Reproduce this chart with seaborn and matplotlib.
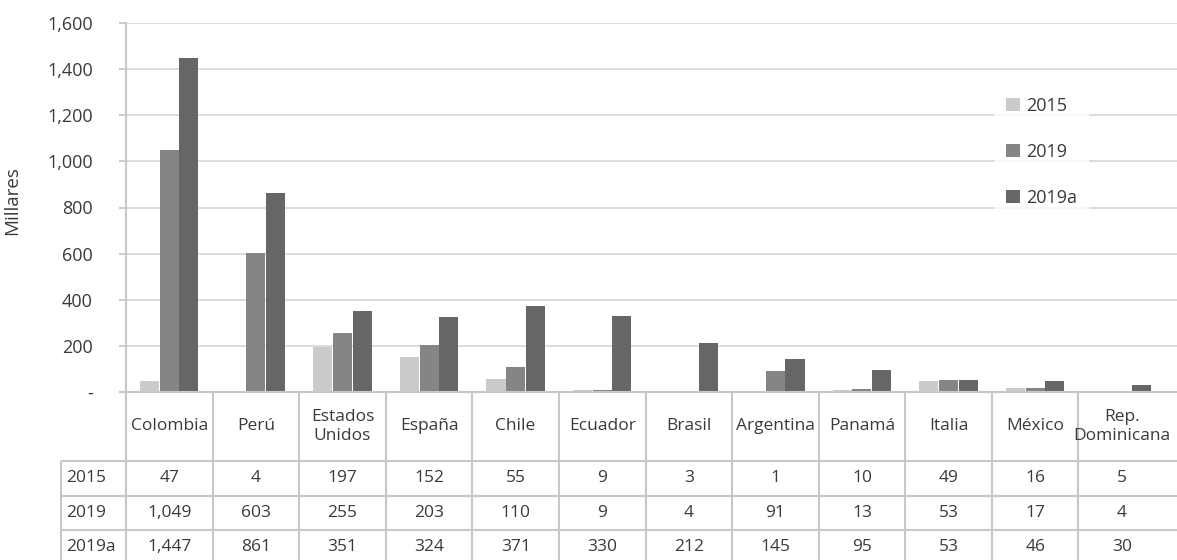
import matplotlib
matplotlib.use("Agg")
import matplotlib.pyplot as plt
import numpy as np
import pandas as pd
import seaborn as sns
from matplotlib.ticker import FuncFormatter

# datos (miles de personas)
paises = ["Colombia", "Perú", "Estados\nUnidos", "España", "Chile", "Ecuador",
          "Brasil", "Argentina", "Panamá", "Italia", "México", "Rep.\nDominicana"]
series = ["2015", "2019", "2019a"]
v2015 = [47, 4, 197, 152, 55, 9, 3, 1, 10, 49, 16, 5]
v2019 = [1049, 603, 255, 203, 110, 9, 4, 91, 13, 53, 17, 4]
v2019a = [1447, 861, 351, 324, 371, 330, 212, 145, 95, 53, 46, 30]
colores = ["#cbcbcb", "#858585", "#666666"]

sns.set_theme(style="white")
plt.rcParams["font.family"] = ["Open Sans", "DejaVu Sans"]
texto = "#3a3a3a"
linea = "#c8c8c8"

df = pd.DataFrame({
    "pais": paises * 3,
    "serie": np.repeat(series, len(paises)),
    "valor": v2015 + v2019 + v2019a,
})

W, H = 1177, 560
fig = plt.figure(figsize=(W / 100, H / 100), dpi=100)

# pixel layout
x0, x1 = 126, 1177
y_top, y_base = 23, 392
col_w = (1165 - 126) / 12
xmax = -0.5 + (x1 - x0) / col_w

ax = fig.add_axes([x0 / W, 1 - y_base / H, (x1 - x0) / W, (y_base - y_top) / H])
sns.barplot(data=df, x="pais", y="valor", hue="serie", palette=colores,
            width=0.68, gap=0.03, saturation=1, edgecolor="none", ax=ax)
ax.set_xlim(-0.5, xmax)
ax.set_ylim(0, 1600)
ax.set_yticks(np.arange(0, 1601, 200))
ax.yaxis.set_major_formatter(FuncFormatter(lambda v, p: "-" if v == 0 else f"{v:,.0f}"))
ax.set_xticks([])
ax.set_xlabel("")
ax.set_ylabel("Millares", fontsize=13.5, color=texto)
ax.yaxis.set_label_coords((21 - x0) / (x1 - x0), 0.52)
ax.yaxis.grid(True, color="#d9d9d9", linewidth=1.3)
ax.set_axisbelow(True)
for s in ["top", "right", "bottom"]:
    ax.spines[s].set_visible(False)
ax.spines["left"].set_color(linea)
ax.spines["left"].set_linewidth(1.5)
ax.tick_params(axis="y", left=True, length=5, width=1.3, color=linea,
               pad=19, labelsize=13, labelcolor=texto)

leg = ax.legend(loc="upper left", bbox_to_anchor=((995 - x0) / (x1 - x0), (y_base - 86) / (y_base - y_top)),
                frameon=True, fancybox=False, fontsize=13, labelcolor=texto,
                handlelength=0.8, handleheight=0.8, handletextpad=0.35,
                labelspacing=1.55, borderpad=0.6, borderaxespad=0)
leg.get_frame().set_facecolor("white")
leg.get_frame().set_edgecolor("white")

# tabla de datos bajo el gráfico
tb = fig.add_axes([x0 / W, 0, (x1 - x0) / W, (H - y_base) / H])
tb.set_xlim(-0.5, xmax)
tb.set_ylim(H, y_base)
tb.axis("off")

filas_y = [392, 461, 496, 530, 564]
x_lab = -0.5 - (x0 - 61) / col_w
x_tick = -0.5 - 7 / col_w
kw = dict(color=linea, linewidth=1.5, clip_on=False, solid_capstyle="butt")
tb.plot([x_tick, xmax], [filas_y[0]] * 2, **kw)
for yy in filas_y[1:]:
    tb.plot([x_lab, xmax], [yy, yy], **kw)
for i in range(len(paises)):
    tb.plot([i - 0.5, i - 0.5], [filas_y[0], H], **kw)
tb.plot([x_lab, x_lab], [filas_y[1], H], **kw)

fs = 12.5
for i, p in enumerate(paises):
    tb.text(i, (filas_y[0] + filas_y[1]) / 2, p, ha="center", va="center",
            fontsize=fs, color=texto, linespacing=1.3, clip_on=False)

valores = [v2015, v2019, v2019a]
for r, (nombre, vals) in enumerate(zip(series, valores)):
    yc = (filas_y[r + 1] + filas_y[r + 2]) / 2
    tb.text(x_lab + 5 / col_w, yc, nombre, ha="left", va="center", fontsize=fs, color=texto)
    for i, v in enumerate(vals):
        tb.text(i, yc, f"{v:,}", ha="center", va="center", fontsize=fs, color=texto)

fig.savefig("out.png", dpi=100)
